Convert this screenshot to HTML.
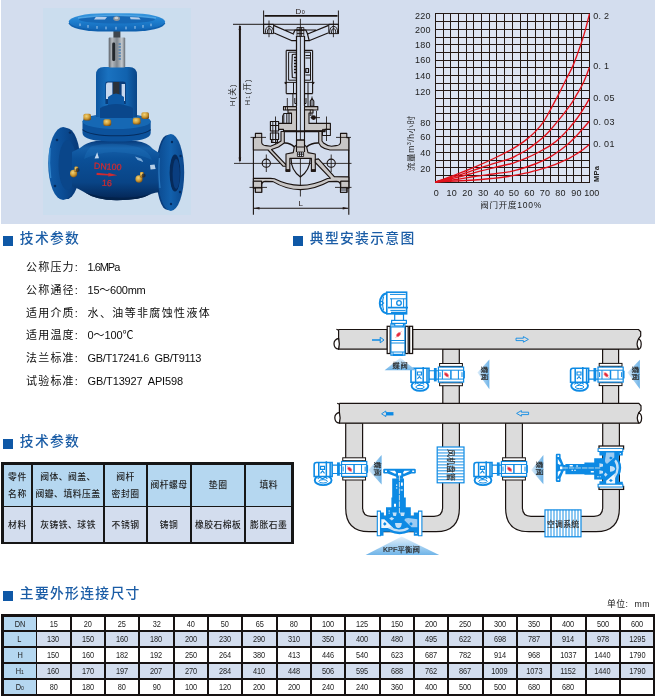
<!DOCTYPE html>
<html lang="zh-CN"><head><meta charset="utf-8"><title>KPF平衡阀</title>
<style>
*{box-sizing:border-box}
html,body{margin:0;padding:0;background:#fff}
body{width:657px;height:697px;position:relative;overflow:hidden;font-family:"Liberation Sans","Noto Sans CJK SC",sans-serif;color:#222}
.abs{position:absolute}
#top{left:1px;top:0;width:654px;height:223.7px;background:#d3ddee}
#photo{left:43px;top:8px;width:148px;height:206.8px;background:#cbddee}
.h{position:absolute;height:20px;line-height:20px;font-size:13.8px;letter-spacing:1.3px;font-weight:500;color:#1b5da6;white-space:nowrap}
.h i{position:absolute;left:.2px;top:6.9px;width:9.6px;height:9.7px;background:#0f58a6}
.h span{position:absolute;left:16.8px;top:.3px}
.p{position:absolute;left:25.6px;height:20px;line-height:20px;font-size:11px;white-space:nowrap;color:#0c0c0c}
.p .k{font-weight:400;letter-spacing:1.2px;position:absolute;left:0;top:0}
.p .v{position:absolute;left:61.6px;top:0;letter-spacing:-.85px;font-weight:400}
svg{position:absolute;left:0;top:0;overflow:visible}
body>*{will-change:transform}
svg text{font-family:"Liberation Sans","Noto Sans CJK SC",sans-serif}
.t1{position:absolute;left:1px;top:462px;width:293px;height:82px;background:#161616}
.t1 div{position:absolute;font-weight:500;font-size:8.8px;line-height:17.5px;text-align:center;color:#1e1e1e;letter-spacing:.5px;white-space:nowrap;display:flex;align-items:center;justify-content:center}
.t1 .a{background:#b5d7f0;padding-top:1.6px}
.t1 .b{background:#d3ddee;padding-top:2.6px}
.t2{position:absolute;left:1.3px;top:614px;width:654.4px;height:82px;background:#161212}
.t2 div{position:absolute;font-size:8.6px;text-align:center;color:#1c1c1c;white-space:nowrap;display:flex;align-items:center;justify-content:center;letter-spacing:-.1px;padding-top:.3px}
.t2 span{display:inline-block;transform:scaleX(.86)}
.t2 small{font-size:6px}
.t2 .a{background:#b5d7f0}
.t2 .b{background:#d3ddee}
.t2 .w{background:#fff}
.unit{position:absolute;left:607.4px;top:597.4px;width:50px;height:14px;line-height:14px;font-size:8.8px;letter-spacing:.5px;color:#222;white-space:nowrap}
</style></head>
<body>
<div id="top" class="abs"></div>
<div id="photo" class="abs"></div>
<svg width="657" height="697" viewBox="0 0 657 697">
<defs>
<linearGradient id="gBody" x1="0" y1="0" x2="0" y2="1">
<stop offset="0" stop-color="#083c7c"/><stop offset=".12" stop-color="#155fa8"/><stop offset=".3" stop-color="#0b5098"/><stop offset=".7" stop-color="#094486"/><stop offset="1" stop-color="#042452"/>
</linearGradient>
<linearGradient id="gWheel" x1="0" y1="0" x2="0" y2="1">
<stop offset="0" stop-color="#3a98de"/><stop offset=".45" stop-color="#1f80d0"/><stop offset="1" stop-color="#1266b6"/>
</linearGradient>
<linearGradient id="gSleeve" x1="0" y1="0" x2="1" y2="0">
<stop offset="0" stop-color="#5a6068"/><stop offset=".2" stop-color="#b4b9be"/><stop offset=".5" stop-color="#7e868e"/><stop offset=".8" stop-color="#c4c9ce"/><stop offset="1" stop-color="#666e76"/>
</linearGradient>
<linearGradient id="gYoke" x1="0" y1="0" x2="1" y2="0">
<stop offset="0" stop-color="#0d56a0"/><stop offset=".3" stop-color="#1a72c0"/><stop offset=".75" stop-color="#1162ae"/><stop offset="1" stop-color="#0a4587"/>
</linearGradient>
<linearGradient id="gFl" x1="0" y1="0" x2="1" y2="0">
<stop offset="0" stop-color="#115ca8"/><stop offset=".5" stop-color="#0b4c94"/><stop offset="1" stop-color="#083a78"/>
</linearGradient>
<linearGradient id="gFr" x1="0" y1="0" x2="1" y2="0">
<stop offset="0" stop-color="#0b4a90"/><stop offset=".5" stop-color="#1260ac"/><stop offset="1" stop-color="#0b478c"/>
</linearGradient>
<radialGradient id="gGold" cx=".4" cy=".35" r=".7">
<stop offset="0" stop-color="#f2d47a"/><stop offset=".55" stop-color="#cf9c34"/><stop offset="1" stop-color="#7a4e14"/>
</radialGradient>
</defs>
<g id="valve">
<!-- left flange -->
<ellipse cx="66.5" cy="163.5" rx="14" ry="35.6" fill="#083c7c"/>
<ellipse cx="63.2" cy="163.5" rx="15" ry="36.6" fill="url(#gFl)"/>
<ellipse cx="67.5" cy="165" rx="9" ry="25" fill="#0a468a"/>
<path d="M50 148Q48.6 163 50.6 178" stroke="#3c93d8" stroke-width="1.5" fill="none" opacity=".75"/>
<circle cx="57" cy="140" r="1.3" fill="#062c5e"/><circle cx="55" cy="186" r="1.3" fill="#062c5e"/><circle cx="70" cy="132.6" r="1.2" fill="#062c5e"/>
<!-- right flange back -->
<ellipse cx="167.6" cy="172.5" rx="11.6" ry="37.5" fill="#083c7c"/>
<!-- body -->
<path d="M72 152Q76 150 80 148Q86 142.4 96 141H136Q148 142.6 153 149Q157 152 160 153V192Q155 192.6 151 194Q140 200.4 116 200.2Q96 200.2 84 192Q78 188.6 72 186Z" fill="url(#gBody)"/>
<path d="M92 146Q114 141 138 147Q150 152 152 160Q138 153 114 152Q96 153 84 159Q86 150 92 146Z" fill="#2a84cc" opacity=".22"/>
<path d="M94.6 158.4l2.6-6.2 1.8 6z" fill="#d6e6f6" opacity=".9"/>
<path d="M135 156.4l6 2 2.6 3.6-6-2z" fill="#9cc4ea" opacity=".8"/>
<path d="M150 165l4.6-.6 1 4.6-5 .6z" fill="#d6e6f6" opacity=".85"/>
<path d="M84 192Q96 200.2 116 200.2Q140 200.4 151 194Q138 198 116 197.6Q98 197.6 84 192Z" fill="#03224a"/>
<!-- right flange front -->
<ellipse cx="170.8" cy="172.5" rx="13.4" ry="38.4" fill="url(#gFr)"/>
<ellipse cx="175" cy="173" rx="5.4" ry="18.6" fill="#062a5a"/>
<ellipse cx="176.2" cy="174" rx="3.6" ry="15" fill="#0a3e80"/>
<path d="M159.4 158Q158.2 172 160 188" stroke="#3c93d8" stroke-width="1.3" fill="none" opacity=".6"/>
<circle cx="172" cy="142" r="1.2" fill="#062c5e"/><circle cx="180.6" cy="156" r="1.2" fill="#062c5e"/><circle cx="180" cy="192" r="1.2" fill="#062c5e"/><circle cx="171" cy="204" r="1.2" fill="#062c5e"/>
<!-- bonnet flange -->
<path d="M82.5 122Q82.5 114 116.5 114Q150.7 114 150.7 122V133Q150.7 141.6 116.5 141.6Q82.5 141.6 82.5 133Z" fill="#0c529c"/>
<ellipse cx="116.6" cy="121.5" rx="34.1" ry="7.6" fill="#1668b4"/>
<path d="M82.5 129.6Q90 135.8 116.5 135.8Q143 135.8 150.7 129.6" stroke="#052c5e" stroke-width="1.1" fill="none"/>
<!-- yoke -->
<path d="M96 117V75Q96 67 104 67H129Q137 67 137 75V117Z" fill="url(#gYoke)"/>
<path d="M105.4 84Q105.4 81.6 108 81.6H123Q125.8 81.6 125.8 84V104H105.4Z" fill="#093c7a"/>
<path d="M106 84.4Q106 82.6 108 82.6H112.4V99H106Z" fill="#c8d8ee"/>
<path d="M121.6 84H125V101H121.6Z" fill="#c8d8ee"/>
<path d="M113.2 82H119.4V95H113.2Z" fill="#2c3138"/>
<path d="M108 97Q116 90 124 97V110H108Z" fill="#0d58a4"/>
<path d="M100 108Q116 100 133 108V118H100Z" fill="#0a478c"/>
<!-- bolts -->
<g fill="url(#gGold)">
<rect x="83.4" y="113.8" width="7.6" height="6.8" rx="1.8"/>
<rect x="103.4" y="119.2" width="7.8" height="6.8" rx="1.8"/>
<rect x="132.8" y="117.8" width="7.8" height="6.8" rx="1.8"/>
<rect x="141.4" y="112.2" width="7.6" height="6.8" rx="1.8"/>
<ellipse cx="73.6" cy="173.6" rx="3.6" ry="3.8"/>
<ellipse cx="139" cy="179" rx="3.6" ry="3.8"/>
<rect x="74.4" y="166.6" width="3.8" height="5.4" rx="1"/>
<rect x="140" y="172" width="3.8" height="5.4" rx="1"/>
</g>
<circle cx="77.6" cy="170" r="2" fill="#1c2230" opacity=".7"/><circle cx="143.6" cy="175.6" r="2" fill="#1c2230" opacity=".7"/>
<!-- sleeve & stem -->
<rect x="113.4" y="30" width="7" height="9" fill="#3f464d"/>
<rect x="108.7" y="37.4" width="16.5" height="30" rx="1" fill="url(#gSleeve)"/>
<rect x="112.2" y="42.6" width="3" height="18.5" rx="1.4" fill="#23272c"/>
<path d="M118.6 44h2.4M118.6 47h2.4M118.6 50h2.4M118.6 53h2.4M118.6 56h2.4M118.6 59h2.4" stroke="#2d6fb0" stroke-width="1"/>
<!-- handwheel -->
<rect x="68.8" y="15" width="96.2" height="16.6" rx="36" ry="8.3" fill="#0f60ae"/>
<rect x="68.8" y="13.2" width="96.2" height="16.8" rx="36" ry="8.4" fill="url(#gWheel)"/>
<ellipse cx="116.9" cy="19.4" rx="38" ry="4.2" fill="#1668b6"/>
<path d="M96 16.8l11 .2-2 2.4-11 .2zM130 17l9 .4 1.6 2-10-.2z" fill="#c8d8ee" opacity=".9"/>
<path d="M80 23.5v2.5M88 25v2.8M97 26v2.8M106 26.6v2.8M116 26.8v2.8M126 26.6v2.8M135 26v2.8M143 25v2.8M151 23.6v2.6" stroke="#cfe3f7" stroke-width="1" opacity=".8"/>
<path d="M78 18Q116 12.6 156 18" stroke="#58acea" stroke-width="1.4" fill="none" opacity=".8"/>
<ellipse cx="116.6" cy="18.6" rx="3.4" ry="2.4" fill="#8d949b"/>
<ellipse cx="116.4" cy="18" rx="2" ry="1.3" fill="#c9ced3"/>
<!-- lettering -->
<g fill="#d02a30" transform="rotate(3 108 170)" stroke="#d02a30" stroke-width=".25">
<text x="93.8" y="169.6" font-size="8.8" textLength="27.6" lengthAdjust="spacingAndGlyphs">DN100</text>
<text x="102.6" y="186" font-size="8.8" textLength="10" lengthAdjust="spacingAndGlyphs">16</text>
<path d="M96.8 173.4l12 .6-.6-1.2 9.4 2-9.4 1.8 .6-1.2-12 .2z" stroke="none"/>
</g>
</g>

<g id="drawing" fill="none" stroke="#1a1311" stroke-width="1.10" stroke-linejoin="round">
<!-- dimension lines -->
<path d="M263.6 10.5V33.8M338.4 10.5V33.8M233 24.3H338.4" stroke-width="0.98"/>
<path d="M264.5 15.9H337.5" stroke-width="1.83"/>
<path d="M239.9 26V161" stroke-width="1.95"/>
<path d="M239.9 24.6L238.6 30H241.2ZM239.9 163L238.6 157.5H241.2Z" fill="#231815" stroke="none"/>
<path d="M234 163.4H351.5M300.4 18.8V196.5" stroke-width="0.85"/>
<path d="M253.4 137.5V214.8M348.8 137.5V214.8" stroke-width="1.10"/>
<path d="M254 208.2H348.2" stroke-width="1.10"/>
<path d="M253.8 208.2L259.5 206.9V209.5ZM348.4 208.2L342.7 206.9V209.5Z" fill="#231815" stroke="none"/>
<!-- handwheel -->
<path d="M263.6 24.3H273.6V33.6H263.6ZM328.8 24.3H338.4V33.6H328.8Z" stroke-width="0.98"/>
<path d="M265.3 33.2Q265.3 26.4 269.4 26.4Q273.5 26.4 273.5 33.2M267.3 33.2Q267.3 28.6 269.4 28.6Q271.6 28.6 271.6 33.2M329.6 33.2Q329.6 26.4 333.6 26.4Q337.7 26.4 337.7 33.2M331.5 33.2Q331.5 28.6 333.6 28.6Q335.8 28.6 335.8 33.2" stroke-width="0.98"/>
<path d="M269 20.5V37.2M333.4 20.5V37.2" stroke-width="0.85"/>
<path d="M273.6 25.4L294 34.2M274.2 33L292 40.8M328.6 25.4L307 34.2M328 33L309 40.8M285 30H316" stroke-width="1.22"/>
<path d="M293.4 33.6L295 30H305.8L307.4 33.6L309.2 40.6H305M291.6 40.6H296" stroke-width="1.22"/>
<path d="M297 27.5H303.8V36.5H297ZM297 30.5H303.8M297 33.5H303.8M299.2 27.5V36.5M301.6 27.5V36.5" stroke-width="0.85"/>
<!-- stem -->
<path d="M296.5 36V106M304.5 36V106" stroke-width="1.22"/>
<!-- yoke -->
<path d="M286.2 50.4H296.5M304.5 50.4H312.6M286.2 50.4V93.6M312.6 50.4V93.6M286.2 93.6H296.5M304.5 93.6H312.6"/>
<path d="M288.6 52.2H296.5M304.5 52.2H310.5M288.6 52.2V80.2M310.5 52.2V80.2M288.6 80.2H296.5M304.5 80.2H310.5" stroke-width="0.98"/>
<path d="M284.5 82.4H296.5M304.5 82.4H314.5M293.5 82.4V93.6M308 82.4V93.6M305.5 55.5H310.5M305.5 58H310.5M305.5 75H310.5" stroke-width="0.98"/>
<path d="M292.3 54.5Q291.5 66 292.3 77.5L296.4 78V54Z" stroke-width="1.10"/>
<path d="M294 57.5H296.3M294 60.5H296.3M294 63.5H296.3M294 66.5H296.3M294 69.5H296.3M294 72.5H296.3" stroke-width="1.46"/>
<path d="M305.8 68.5H308.5V72.5H305.8Z" stroke-width="1.22"/>
<path d="M286.2 82.4l-1 1.5M312.6 82.4l1 1.5" stroke-width="1.71"/>
<!-- neck -->
<path d="M292.9 93.6V106.4M308 93.6V106.4M294.8 98V103.5H296.5M306 98V103.5H304.5" stroke-width="0.98"/>
<path d="M287.3 98V107" stroke-width="0.85"/>
<path d="M312 98.5L313.8 101V106.4H310.3V101Z" stroke-width="1.10" fill="#d3ddee"/>
<path d="M312 96.5V119" stroke-width="0.85"/>
<!-- gland flange -->
<path d="M283.5 106.6H296.5V110H283.5ZM304.5 106.6H317.8V110H304.5Z" fill="#c8c6c6" stroke-width="1.10"/>
<path d="M285.5 106.6V110M287.5 106.6V110" stroke-width="0.85"/>
<!-- bonnet -->
<path d="M288 110H296.5V131H283.5V129.4H277.6V123.4H291.5V113H288Z" fill="#c8c6c6" stroke-width="1.10"/>
<path d="M304.5 110H313V113H309V123.4H330.4V129.4H325V131H304.5Z" fill="#c8c6c6" stroke-width="1.10"/>
<path d="M283.8 113.5H291.5M283.8 113.5V123.4M286.8 113.5V123.4M289 113.5V123.4M283.8 113.5L282.6 116V123.4" stroke-width="0.98"/>
<circle cx="313.6" cy="117.6" r="2.4" fill="#231815" stroke="none"/>
<path d="M310.5 117.6H320M316.5 111V123.4M310.3 110V116" stroke-width="0.85"/>
<path d="M283 131.2H325.5" stroke-width="2.07"/>
<!-- bolts left -->
<path d="M270.4 121.5H278.6V125.5H270.4ZM270.4 125.5H278.6V131H270.4ZM270.4 133H278.6V139.5H270.4ZM271.5 139.5H277.5V142.5H271.5Z" stroke-width="1.10" fill="#d3ddee"/>
<path d="M272.8 121.5V142.5M275.8 121.5V142.5" stroke-width="0.85"/>
<path d="M275.5 116.5V146M326.5 116.5V141" stroke-width="0.85"/>
<path d="M322.5 129.4H330.4V135.5H322.5ZM322.5 135.5H330.4" stroke-width="0.98"/>
<!-- body upper walls -->
<path d="M253.4 137.6H255.4V133.4H261.7V137.6V142.5Q262 145.4 266 145.6L270.5 146.2L277 143.5L281 141V131.5H284.3V143L278.5 147L271.5 149.5L287.5 166.3H283.2L268 150H253.4Z" fill="#c8c6c6" stroke-width="1.10"/>
<path d="M348.8 137.6H346.8V133.4H340.5V137.6V142.5Q340 145.4 336 145.6L331.5 146.2Q327 145.8 323.5 143L322 141V131.5H318.7V143L321 146.5Q325 149.5 330 150H348.8Z" fill="#c8c6c6" stroke-width="1.10"/>
<path d="M284.3 143Q289.5 142.5 294.3 146.8M318.7 143Q312 142.5 306.6 146.8" stroke-width="1.59"/>
<!-- plug / disc -->
<path d="M294.3 146.8L293.2 152.6L286 154V171.3H289.8V158.4H311.4V171.3H315.3V154L308 152.6L306.6 146.8L304.5 145V140H296.5V145Z" fill="#c8c6c6" stroke-width="1.10"/>
<path d="M297.4 152H303.6V156.5H297.4ZM297.4 154.2H303.6M299.5 152V156.5M301.5 152V156.5" stroke-width="0.85" fill="#d3ddee"/>
<path d="M296.5 131V152M304.5 131V152M296.5 140H304.5M296.5 147H304.5" stroke-width="1.10"/>
<path d="M291 158.4Q291 170 300.4 177Q310 170 310.2 158.4" stroke-width="1.22"/>
<path d="M286 169.5H289.8V171.5H286ZM311.4 169.5H315.3V171.5H311.4Z" fill="#231815" stroke-width="0.73"/>
<!-- diagonal web right -->
<path d="M315.3 159.5L318.5 159L334 176.5L348.8 177V181H342V192H346.8V188.5M348.8 150V181" stroke-width="1.10"/>
<path d="M315.3 159.5L318.5 159L334.5 176.8L348.8 177V181.2H340.8L340.5 185Q340 181.5 336.5 181.4L329 181.6Q315 189.5 300.4 189.6Q286 189.5 273 181.6L265.5 181.4Q262 181.5 261.7 185L261.5 181.2H253.4V178.4H270.5L274.5 178.8Q287 185.3 300.4 185.4Q314 185.3 327.5 178.5L330.5 178.3L315.3 162.5Z" fill="#c8c6c6" stroke-width="1.10"/>
<path d="M253.4 181.2V188H255.4V192.2H261.7V185M348.8 181.2V188H346.8V192.2H340.5V185" fill="none" stroke-width="1.10"/>
<path d="M253.4 181.2H261.6V188H253.4ZM340.7 181.2H348.8V188H340.7Z" fill="#c8c6c6" stroke-width="1.10"/>
<path d="M255.4 188H261.7V192.2H255.4Z" fill="#c8c6c6" stroke-width="1.10"/>
<path d="M340.5 188H346.8V192.2H340.5Z" fill="#d3ddee" stroke-width="1.10"/>
<path d="M340.5 190H346.8" stroke-width="0.85"/>
<!-- bolt holes -->
<circle cx="266.3" cy="163.2" r="4.1" stroke-width="1.10"/>
<circle cx="331.2" cy="163.2" r="4.1" stroke-width="1.10"/>
<path d="M266.3 154.5V172M331.2 154.5V172M250.5 137.4H266M249.5 187.4H267M336 137.4H351M335 187.4H351.5" stroke-width="0.85"/>
<!-- labels -->
<g stroke="none" fill="#231815">
<text x="295.6" y="14" font-size="8" letter-spacing=".3">D<tspan font-size="5.5">0</tspan></text>
<text x="298.4" y="206" font-size="8">L</text>
<text transform="translate(235.4 106.2) rotate(-90)" font-size="7.8" letter-spacing="1.1" fill="#2a2a2a">H(关)</text>
<text transform="translate(249.8 105.4) rotate(-90)" font-size="7.8" letter-spacing="1.1" fill="#2a2a2a">H<tspan font-size="5.5">1</tspan>(开)</text>
</g>
</g>

<g id="chart">
<rect x="435" y="13" width="155" height="170" fill="#dde4f3"/>
<path d="M435.5 13V183M443.5 13V183M450.5 13V183M458.5 13V183M466.5 13V183M473.5 13V183M481.5 13V183M489.5 13V183M496.5 13V183M504.5 13V183M512.5 13V183M520.5 13V183M527.5 13V183M535.5 13V183M543.5 13V183M550.5 13V183M558.5 13V183M566.5 13V183M573.5 13V183M581.5 13V183M589.5 13V183M435 13.5H590M435 21.5H590M435 29.5H590M435 37.5H590M435 44.5H590M435 52.5H590M435 60.5H590M435 67.5H590M435 75.5H590M435 83.5H590M435 90.5H590M435 98.5H590M435 106.5H590M435 113.5H590M435 121.5H590M435 129.5H590M435 136.5H590M435 144.5H590M435 152.5H590M435 160.5H590M435 167.5H590M435 175.5H590M435 182.5H590" fill="none" stroke="#231815" stroke-width="1" shape-rendering="crispEdges"/>
<path d="M435.5 182C438.9 180.8 449.5 177.1 456 174.6C462.5 172.1 468.4 169.8 474.7 167.1C481.0 164.4 487.9 161.3 493.8 158.5C499.7 155.7 505.9 152.5 510 150.3C514.1 148.1 515.6 147.1 518.4 145.3C521.2 143.5 523.9 141.6 526.7 139.4C529.5 137.2 532.3 134.8 535.1 131.9C537.9 129.0 541.0 125.4 543.5 121.8C546.0 118.2 547.7 114.7 550.2 110.1C552.7 105.5 555.8 99.8 558.6 94.4C561.4 89.0 564.5 82.5 566.9 77.8C569.3 73.1 571.1 69.9 572.8 66.1C574.5 62.3 575.5 59.4 577 55.2C578.5 51.0 580.6 45.2 582 41C583.4 36.8 584.0 34.6 585.3 30.1C586.5 25.6 588.8 16.5 589.5 13.8" fill="none" stroke="#e0101a" stroke-width="1.35"/>
<path d="M435.5 182C438.9 181.0 449.5 178.2 456 176.2C462.5 174.2 468.5 172.0 474.7 169.9C480.9 167.8 487.4 165.5 493.3 163.6C499.2 161.7 505.8 160.2 510 158.7C514.2 157.2 515.6 155.9 518.4 154.5C521.2 153.1 523.9 151.8 526.7 150C529.5 148.2 532.3 146.1 535.1 143.9C537.9 141.7 541.0 139.2 543.5 136.9C546.0 134.6 547.7 133.0 550.2 130.2C552.7 127.4 556.1 123.3 558.6 120.2C561.1 117.1 563.0 114.7 565.2 111.8C567.4 108.9 570.0 105.5 572 102.6C574.0 99.7 575.0 97.6 577 94.2C579.0 90.8 581.6 86.5 583.7 82C585.8 77.5 588.5 69.8 589.5 67.3" fill="none" stroke="#e0101a" stroke-width="1.35"/>
<path d="M435.5 182C438.9 181.3 449.5 179.2 456 177.6C462.5 176.0 468.5 174.2 474.7 172.6C480.9 171.0 487.4 169.2 493.3 167.8C499.2 166.4 505.8 165.1 510 164C514.2 162.9 515.6 162.2 518.4 161.2C521.2 160.2 523.9 159.0 526.7 157.8C529.5 156.6 532.3 155.4 535.1 154C537.9 152.6 540.7 151.1 543.5 149.5C546.3 147.9 549.1 146.4 551.9 144.4C554.7 142.4 557.4 140.3 560.2 137.7C563.0 135.1 565.8 132.1 568.6 128.9C571.4 125.7 574.5 121.9 577 118.5C579.5 115.1 581.7 111.7 583.7 108.4C585.8 105.1 588.4 100.5 589.3 98.9" fill="none" stroke="#e0101a" stroke-width="1.35"/>
<path d="M435.5 182C438.9 181.6 449.5 180.4 456 179.5C462.5 178.6 468.5 177.4 474.7 176.5C480.9 175.6 487.4 174.8 493.3 174C499.2 173.2 505.8 172.3 510 171.6C514.2 170.8 515.6 170.3 518.4 169.5C521.2 168.7 523.9 167.9 526.7 167C529.5 166.1 532.3 165.1 535.1 164C537.9 162.9 540.7 161.7 543.5 160.3C546.3 158.9 549.1 157.5 551.9 155.8C554.7 154.1 557.4 152.3 560.2 150.3C563.0 148.3 565.8 146.1 568.6 143.6C571.4 141.1 574.5 137.8 577 135.2C579.5 132.5 581.7 130.0 583.7 127.7C585.8 125.4 588.4 122.4 589.3 121.3" fill="none" stroke="#e0101a" stroke-width="1.35"/>
<path d="M435.5 182C438.9 181.8 449.5 181.3 456 181C462.5 180.7 468.5 180.4 474.7 180C480.9 179.6 487.4 178.9 493.3 178.3C499.2 177.7 505.8 176.8 510 176.2C514.2 175.6 515.6 175.1 518.4 174.6C521.2 174.1 523.9 173.6 526.7 172.9C529.5 172.2 532.3 171.4 535.1 170.7C537.9 169.9 540.7 169.2 543.5 168.4C546.3 167.6 549.1 166.7 551.9 165.7C554.7 164.7 557.4 163.5 560.2 162.3C563.0 161.1 565.8 160.1 568.6 158.7C571.4 157.2 574.8 155.0 577 153.6C579.2 152.2 580.0 151.8 582 150.3C584.0 148.8 588.1 145.4 589.3 144.4" fill="none" stroke="#e0101a" stroke-width="1.35"/>
<path d="M435.5 182.2L452 176.5L452 181.2Z" fill="#e0141c"/>
<text x="430.8" y="18.7" text-anchor="end" font-size="9" letter-spacing=".25" fill="#222">220</text>
<text x="430.8" y="33.4" text-anchor="end" font-size="9" letter-spacing=".25" fill="#222">200</text>
<text x="430.8" y="48.0" text-anchor="end" font-size="9" letter-spacing=".25" fill="#222">180</text>
<text x="430.8" y="62.8" text-anchor="end" font-size="9" letter-spacing=".25" fill="#222">160</text>
<text x="430.8" y="78.5" text-anchor="end" font-size="9" letter-spacing=".25" fill="#222">140</text>
<text x="430.8" y="95.4" text-anchor="end" font-size="9" letter-spacing=".25" fill="#222">120</text>
<text x="430.8" y="125.8" text-anchor="end" font-size="9" letter-spacing=".25" fill="#222">80</text>
<text x="430.8" y="140.1" text-anchor="end" font-size="9" letter-spacing=".25" fill="#222">60</text>
<text x="430.8" y="155.8" text-anchor="end" font-size="9" letter-spacing=".25" fill="#222">40</text>
<text x="430.8" y="171.6" text-anchor="end" font-size="9" letter-spacing=".25" fill="#222">20</text>
<text x="436.4" y="196.3" text-anchor="middle" font-size="9" letter-spacing="0.25" fill="#222">0</text>
<text x="451.7" y="196.3" text-anchor="middle" font-size="9" letter-spacing="0.25" fill="#222">10</text>
<text x="467.4" y="196.3" text-anchor="middle" font-size="9" letter-spacing="0.25" fill="#222">20</text>
<text x="483.3" y="196.3" text-anchor="middle" font-size="9" letter-spacing="0.25" fill="#222">30</text>
<text x="498.9" y="196.3" text-anchor="middle" font-size="9" letter-spacing="0.25" fill="#222">40</text>
<text x="514.1" y="196.3" text-anchor="middle" font-size="9" letter-spacing="0.25" fill="#222">50</text>
<text x="529.4" y="196.3" text-anchor="middle" font-size="9" letter-spacing="0.25" fill="#222">60</text>
<text x="545.1" y="196.3" text-anchor="middle" font-size="9" letter-spacing="0.25" fill="#222">70</text>
<text x="560.4" y="196.3" text-anchor="middle" font-size="9" letter-spacing="0.25" fill="#222">80</text>
<text x="576.6" y="196.3" text-anchor="middle" font-size="9" letter-spacing="0.25" fill="#222">90</text>
<text x="591.7" y="196.3" text-anchor="middle" font-size="9" letter-spacing="0" fill="#222">100</text>
<text x="480.3" y="208" font-size="8.5" letter-spacing=".75" fill="#222">阀门开度100%</text>
<text transform="translate(414 171) rotate(-90)" font-size="8.5" letter-spacing=".6" fill="#222">流量m<tspan font-size="5" dy="-3">3</tspan><tspan dy="3">/h小时</tspan></text>
<text x="593.2" y="18.8" font-size="9" letter-spacing=".3" fill="#222" xml:space="preserve">0. 2</text>
<text x="593.2" y="69.2" font-size="9" letter-spacing=".3" fill="#222" xml:space="preserve">0. 1</text>
<text x="593.2" y="101.0" font-size="9" letter-spacing=".3" fill="#222" xml:space="preserve">0. 05</text>
<text x="593.2" y="124.8" font-size="9" letter-spacing=".3" fill="#222" xml:space="preserve">0. 03</text>
<text x="593.2" y="146.8" font-size="9" letter-spacing=".3" fill="#222" xml:space="preserve">0. 01</text>
<text transform="translate(598.5 182) rotate(-90)" font-size="7.5" letter-spacing=".3" fill="#222" font-weight="bold">MPa</text>
</g>
<defs>
<linearGradient id="tR" x1="0" y1="0" x2="1" y2="0"><stop offset="0" stop-color="#dcedfa"/><stop offset="1" stop-color="#6fb4e8"/></linearGradient>
<linearGradient id="tD" x1="0" y1="0" x2="0" y2="1"><stop offset="0" stop-color="#e4f1fb"/><stop offset="1" stop-color="#6fb4e8"/></linearGradient>
<g id="bfh" fill="#fff" stroke="#0d8ae4" stroke-width="1.2">
<!-- horizontal butterfly valve: origin = pipe centre x, body centre y -->
<rect x="-12.6" y="-7.5" width="25.2" height="15"/>
<path d="M-12.6 -4.4H12.6M-12.6 4.5H12.6M-8.6 -4.4V4.5M7.4 -4.4V4.5M-11 -2.4V2.4M11 -2.4V2.4" fill="none" stroke-width="1"/>
<path d="M-.1 -4.4V4.5" fill="none" stroke-width="1.5"/>
<rect x="12.6" y="-3.4" width=".9" height="6.8" stroke-width=".9"/>
<path d="M-22 -3.8H-12.6M-22 4.5H-12.6" fill="none" stroke-width="1.1"/>
<rect x="-17.1" y="-6.6" width="2.8" height="13.4" fill="#0d8ae4" stroke="none"/>
<ellipse cx="-31" cy="11.2" rx="8.4" ry="5" stroke-width="1.9"/>
<path d="M-37.6 -6.4H-22V7.6H-40V-4Q-40 -6.4 -37.6 -6.4Z" stroke-width="1.6"/>
<path d="M-35.4 -6.4V7.6M-27.8 -7.6V8.6M-24 -6.4V7.6" fill="none" stroke-width="1.5"/>
<path d="M-33.6 -2.6h4v3h-4zM-33.6 4.4l2-2.4 2 2.4M-36.4 9.8l2-1.6 2.8 1.6 2.8-1.6 2 1.6" fill="none" stroke-width="1.1"/>
<ellipse cx="-31" cy="12.4" rx="4.2" ry="1.7" stroke-width="1"/>
<path d="M-7.2 -3L-1.8 3.4" stroke="#f6a0a6" stroke-width=".8" fill="none"/>
<ellipse cx="-4.5" cy=".2" rx="2.5" ry="1.5" transform="rotate(45 -4.5 .2)" fill="#e6283a" stroke="#f07c86" stroke-width=".6"/>
</g>
<g id="flh" fill="#fff" stroke="#1a1311" stroke-width="1">
<rect x="-11.4" y="-11.1" width="22.8" height="2.9"/>
<rect x="-11.4" y="8.2" width="22.8" height="2.9"/>
</g>
<g id="globe">
<!-- upright globe valve; origin = body centre (pipe axis) -->
<path d="M-16.4 -53.6Q-16.4 -54.6 -15.2 -54.6H15Q16.2 -54.6 16.2 -53.6V-50.6Q16.2 -49.8 15 -49.8H12L3.4 -46.6V-44.6H-3.4V-46.6L-12 -49.8H-15.2Q-16.4 -49.8 -16.4 -50.6Z" fill="#0d8ae4"/>
<path d="M-14.6 -52.9h2v1.6h-2zM12.6 -52.9h2v1.6h-2zM-10.6 -52.6H-4.6L-3.2 -50.2L-4.6 -49.6ZM10.6 -52.6H4.6L3.2 -50.2L4.6 -49.6ZM-1.6 -50.4H1.6V-48H-1.6Z" fill="#fff"/>
<path d="M-7.4 -45H4.4V-26H6.2V-16.2H11.2V-9H-13.6V-16.2H-8.2V-26H-7.4Z" fill="#0d8ae4"/>
<path d="M-.2 -48V-9" stroke="#f4efe6" stroke-width=".8" stroke-dasharray="5.5 1"/>
<path d="M1.4 -40.8H3.2V-37.6H1.4ZM-3.6 -38.8h1.3v1.2h-1.3zM-3.6 -36h1.3v1.2h-1.3zM1 -33.8h2.2v.9h-2.2zM-5.6 -19.6h2v3h-2zM-11 -13h1.2v1.2h-1.2zM-11 -10.6h1.2v1.2h-1.2z" fill="#fff"/>
<path d="M-19.1 -11H-15.7V-7.6H-13.6V-9.8H11.2V-7.6H14.2V-11H18.9V12.4H14.2V8.4H10Q5 10.8 0 10.8Q-5 10.8 -10 8.4H-16.1V12.4H-19.1Z" fill="#0d8ae4"/>
<path d="M-22.3 -12.3H-19.1V12.4H-22.3ZM18.9 -12.3H22.3V12.4H18.9Z" fill="#fff" stroke="#0d8ae4" stroke-width="1.1"/>
<path d="M-18.3 -4.2H-15.2L-6.4 4.7H-18.3Z" fill="#eef6fd"/>
<path d="M5.4 -4.6Q8 -6 10.4 -5.2L17.7 -4.2V3.9H12L4.8 -3.2Z" fill="#9ccbf2"/>
<path d="M-12 4.7Q-6 8.4 0 8.4Q6 8.4 9.6 5.4L7.6 4Q3 6.2 -1 6Q-6 5.6 -8.6 3.4Z" fill="#c4e0f7"/>
<path d="M-4.6 -.4H2.2Q2 4.4 -1.2 4.7Q-4.4 4.4 -4.6 -.4ZM-7.1 -11H-2.9L-3.6 -7.4H-6.2ZM.5 -11H5.2L4.4 -7.4H1.4ZM-10.4 -5l2.4-1.4 2.6 1.4-2.4 2.2z" fill="#c4e0f7"/>
<path d="M-16.6 .5l1.8-1.9 1.8 1.9-1.8 1.9zM9.6 .5l1.8-1.9 1.8 1.9-1.8 1.9zM15.6 9.6h1.4v1.4h-1.4z" fill="#0d8ae4"/>
<path d="M15.8 9.4h1.2v1.2h-1.2z" fill="#fff"/>
</g>
</defs>
<g id="install">
<!-- pipes -->
<g fill="#dcdcdc" stroke="#1a1311" stroke-width="1.2">
<path d="M345.7 423V508Q345.7 531.7 369 531.7H436Q459.4 531.7 459.4 508V423H442.6V507.5Q442.6 516.3 434 516.3H371Q362.6 516.3 362.6 507.5V423Z"/>
<path d="M505.6 423V508Q505.6 531.7 529 531.7H596Q619.4 531.7 619.4 508V423H602.7V507.5Q602.7 516.3 594 516.3H531Q522.4 516.3 522.4 507.5V423Z"/>
<path d="M442.8 349V404H459.3V349ZM602.6 349V404H618.6V349Z"/>
<path d="M336.4 329.3L338.6 330.2V349.1H387.3V329.5H338.6"/>
<path d="M412.6 329.5H638.6L640.7 331.8V336L638.6 338.6V349.1H412.6Z"/>
<path d="M337.2 403.2L339.4 404.1V423.2H638.8V412.8L641 410V405.8L638.8 403.4H339.4"/>
<g fill="#fff" stroke-width="1.25">
<path d="M338.6 338.4Q334 339.6 334 343.8Q334.2 348.8 338.6 349.1Q340 343.8 338.6 338.4Z"/>
<path d="M638.6 338.8Q641.2 340 641.2 344.2Q641 349 638.6 349.1Q635.6 343.8 638.6 338.8Z"/>
<path d="M339.4 412.4Q334.8 413.6 334.8 417.8Q335 422.8 339.4 423.2Q340.8 417.8 339.4 412.4Z"/>
<path d="M638.8 412.8Q641.6 414 641.6 418.2Q641.4 423 638.8 423.2Q635.8 417.8 638.8 412.8Z"/>
</g>
</g>
<!-- pipe flanges for valve 1 -->
<g fill="#fff" stroke="#1a1311" stroke-width="1.25">
<rect x="387.2" y="326.3" width="3" height="27.2"/>
<rect x="405.4" y="326.3" width="2.8" height="27.2"/>
<rect x="409.6" y="326.3" width="3" height="27.2"/>
</g>
<!-- valve 1 upright -->
<g fill="#fff" stroke="#0d8ae4" stroke-width="1.2">
<rect x="390.9" y="323.8" width="14" height="31.4"/>
<path d="M390.9 327H404.9M390.9 340.5H404.9M390.9 343H404.9M390.9 352H404.9M393 323.8V327M402.8 323.8V327M393 352V355.2M402.8 352V355.2" fill="none" stroke-width="1"/>
<rect x="393" y="353.8" width="9.8" height="2.2" fill="#0d8ae4" stroke="none"/>
<rect x="394.7" y="314" width="8.8" height="12" stroke-width="1.2"/>
<rect x="391.6" y="320.4" width="14.8" height="3" stroke-width="1.2"/>
<ellipse cx="387.4" cy="303.2" rx="7.6" ry="10" stroke-width="2"/>
<path d="M383.6 296.5Q381.6 303 383.6 310M381 301l2.6 2-2.6 2.4" fill="none" stroke-width="1.1"/>
<rect x="386.8" y="292.2" width="19.8" height="21.6" stroke-width="1.6"/>
<path d="M390 294.4H405.6M390 298.8H406.6M390.4 310.4H405.6M391.4 298.8V307.6M403.6 298.8V307.6" fill="none" stroke-width="1"/>
<path d="M388 307.6H408" fill="none" stroke-width="1.7"/>
<path d="M391 312.4H406" fill="none" stroke-width="1.3"/>
<circle cx="399" cy="303" r="2.3" stroke-width="1.3"/>
<path d="M395.4 338L401.6 331.2" stroke="#f6a0a6" stroke-width=".8" fill="none"/>
<ellipse cx="398.5" cy="334.6" rx="2.5" ry="1.5" transform="rotate(-45 398.5 334.6)" fill="#e6283a" stroke="#f07c86" stroke-width=".6"/>
</g>
<!-- horizontal butterfly valves -->
<use href="#flh" x="451" y="374.6"/><use href="#bfh" x="451" y="374.6"/>
<use href="#flh" x="610.6" y="374.5"/><use href="#bfh" x="610.6" y="374.6"/>
<use href="#flh" x="354.15" y="468.9"/><use href="#bfh" x="354.15" y="468.95"/>
<use href="#flh" x="514" y="468.9"/><use href="#bfh" x="514" y="468.95"/>
<!-- globe valve horizontal -->
<g fill="#fff" stroke="#1a1311" stroke-width="1.25">
<rect x="599" y="446" width="24.6" height="3"/>
<rect x="599" y="486.4" width="24.6" height="3"/>
</g>
<use href="#globe" transform="translate(610.4 467.8) rotate(-90) scale(.86 1)"/>
<!-- KPF globe valve -->
<use href="#globe" transform="translate(399.6 523.4)"/>
<!-- radiator -->
<g>
<rect x="437.2" y="447" width="26.8" height="35.8" fill="#fff" stroke="#0d8ae4" stroke-width="1.2"/>
<path d="M437.4 449.98H463.8M437.4 452.96H463.8M437.4 455.94H463.8M437.4 458.92H463.8M437.4 461.90H463.8M437.4 464.88H463.8M437.4 467.86H463.8M437.4 470.84H463.8M437.4 473.82H463.8M437.4 476.80H463.8M437.4 479.78H463.8" stroke="#0d8ae4" stroke-width=".95" fill="none"/>
<rect x="545" y="509.9" width="36" height="26.9" fill="#fff" stroke="#0d8ae4" stroke-width="1.2"/>
<path d="M548.00 509.9V536.8M551.00 509.9V536.8M554.00 509.9V536.8M557.00 509.9V536.8M560.00 509.9V536.8M563.00 509.9V536.8M566.00 509.9V536.8M569.00 509.9V536.8M572.00 509.9V536.8M575.00 509.9V536.8M578.00 509.9V536.8" stroke="#0d8ae4" stroke-width=".95" fill="none"/>
</g>
<!-- label triangles -->
<path d="M400.3 357.8L416 370.2H384.6Z" fill="url(#tD)"/>
<path d="M401.6 536.6L439.2 555H365.6Z" fill="url(#tD)"/>
<path d="M477.4 372.6L489.4 359.6V389.2Z" fill="url(#tR)"/>
<path d="M627.4 372.4L639.9 359.8V389.1Z" fill="url(#tR)"/>
<path d="M368.4 470L381.6 455V484.6Z" fill="url(#tR)"/>
<path d="M531.2 470L543.4 455V484.2Z" fill="url(#tR)"/>
<!-- arrows -->
<g fill="none" stroke="#0d8ae4" stroke-width="1.2">
<path d="M372 340H380.4" stroke-width="1.5"/>
<path d="M380.2 337.2L384 340L380.2 342.8Z" stroke-width="1"/>
<path d="M516 338.2H523.4V336.6L528.4 339.4L523.4 342.2V340.6H516Z" stroke-width=".9"/>
<path d="M393.4 412.6H385.8V411L381.6 413.8L385.8 416.6V415H393.4" stroke-width=".9"/>
<path d="M393.4 412.6H386V415H393.4Z" fill="#0d8ae4" stroke="none"/>
<path d="M528.6 412.2H521.4V410.6L516.6 413.4L521.4 416.2V414.6H528.6Z" stroke-width=".9"/>
</g>
<!-- labels -->
<g fill="#2a2a2a" font-size="6.8" stroke="#2a2a2a" stroke-width=".2">
<text x="392.6" y="368.4" font-size="7.2" letter-spacing=".7">蝶阀</text>
<text x="383" y="552.2" font-size="7.4" letter-spacing=".05">KPF平衡阀</text>
<text transform="translate(482.4 366.4) rotate(90)" letter-spacing=".4">蝶阀</text>
<text transform="translate(632.8 366.4) rotate(90)" letter-spacing=".4">蝶阀</text>
<text transform="translate(375 461.8) rotate(90)" letter-spacing=".4">蝶阀</text>
<text transform="translate(537 461.6) rotate(90)" letter-spacing=".4">蝶阀</text>
<text transform="translate(447.8 449.2) rotate(90)" font-size="7.6" letter-spacing=".45">风机盘管</text>
<text x="547" y="526.6" font-size="7.8" letter-spacing=".3">空调系统</text>
</g>
</g>

</svg>
<div class="h" style="left:3px;top:229.3px"><i></i><span>技术参数</span></div>
<div class="h" style="left:292.7px;top:229.2px"><i></i><span>典型安装示意图</span></div>
<div class="h" style="left:3px;top:432.2px"><i></i><span>技术参数</span></div>
<div class="h" style="left:3px;top:584.2px"><i></i><span>主要外形连接尺寸</span></div>
<div class="p" style="top:257.0px"><span class="k">公称压力:</span><span class="v" style="letter-spacing:-1.05px">1.6MPa</span></div>
<div class="p" style="top:279.8px"><span class="k">公称通径:</span><span class="v" style="letter-spacing:-0.25px">15～600mm</span></div>
<div class="p" style="top:302.6px"><span class="k">适用介质:</span><span class="v" style="letter-spacing:1.35px">水、油等非腐蚀性液体</span></div>
<div class="p" style="top:325.4px"><span class="k">适用温度:</span><span class="v" style="letter-spacing:-0.1px">0～100℃</span></div>
<div class="p" style="top:348.2px"><span class="k">法兰标准:</span><span class="v" style="letter-spacing:-0.36px">GB/T17241.6&nbsp; GB/T9113</span></div>
<div class="p" style="top:371.0px"><span class="k">试验标准:</span><span class="v" style="letter-spacing:-0.15px">GB/T13927&nbsp; API598</span></div>
<div class="t1">
<div class="a" style="left:2.6px;top:3.0px;width:27.6px;height:40.8px"><span>零件<br>名称</span></div>
<div class="a" style="left:31.6px;top:3.0px;width:70.9px;height:40.8px"><span>阀体、阀盖、<br>阀瓣、填料压盖</span></div>
<div class="a" style="left:103.9px;top:3.0px;width:41.3px;height:40.8px"><span>阀杆<br>密封圈</span></div>
<div class="a" style="left:146.6px;top:3.0px;width:42.8px;height:40.8px"><span>阀杆螺母</span></div>
<div class="a" style="left:190.8px;top:3.0px;width:52.7px;height:40.8px"><span>垫圈</span></div>
<div class="a" style="left:244.9px;top:3.0px;width:45.6px;height:40.8px"><span>填料</span></div>
<div class="b" style="left:2.6px;top:45.2px;width:27.6px;height:34.4px"><span>材料</span></div>
<div class="b" style="left:31.6px;top:45.2px;width:70.9px;height:34.4px"><span>灰铸铁、球铁</span></div>
<div class="b" style="left:103.9px;top:45.2px;width:41.3px;height:34.4px"><span>不锈钢</span></div>
<div class="b" style="left:146.6px;top:45.2px;width:42.8px;height:34.4px"><span>铸铜</span></div>
<div class="b" style="left:190.8px;top:45.2px;width:52.7px;height:34.4px"><span>橡胶石棉板</span></div>
<div class="b" style="left:244.9px;top:45.2px;width:45.6px;height:34.4px"><span>膨胀石墨</span></div>
</div>
<div class="unit">单位:&nbsp; mm</div>
<div class="t2">
<div class="a" style="left:2.6px;top:2.8px;width:32.2px;height:13.3px"><span>DN</span></div>
<div class="w" style="left:35.9px;top:2.8px;width:32.9px;height:13.3px"><span>15</span></div>
<div class="w" style="left:70.6px;top:2.8px;width:32.5px;height:13.3px"><span>20</span></div>
<div class="w" style="left:104.9px;top:2.8px;width:32.5px;height:13.3px"><span>25</span></div>
<div class="w" style="left:139.2px;top:2.8px;width:32.5px;height:13.3px"><span>32</span></div>
<div class="w" style="left:173.6px;top:2.8px;width:32.5px;height:13.3px"><span>40</span></div>
<div class="w" style="left:207.9px;top:2.8px;width:32.5px;height:13.3px"><span>50</span></div>
<div class="w" style="left:242.2px;top:2.8px;width:32.5px;height:13.3px"><span>65</span></div>
<div class="w" style="left:276.6px;top:2.8px;width:32.5px;height:13.3px"><span>80</span></div>
<div class="w" style="left:310.9px;top:2.8px;width:32.5px;height:13.3px"><span>100</span></div>
<div class="w" style="left:345.2px;top:2.8px;width:32.5px;height:13.3px"><span>125</span></div>
<div class="w" style="left:379.5px;top:2.8px;width:32.5px;height:13.3px"><span>150</span></div>
<div class="w" style="left:413.9px;top:2.8px;width:32.5px;height:13.3px"><span>200</span></div>
<div class="w" style="left:448.2px;top:2.8px;width:32.5px;height:13.3px"><span>250</span></div>
<div class="w" style="left:482.5px;top:2.8px;width:32.5px;height:13.3px"><span>300</span></div>
<div class="w" style="left:516.9px;top:2.8px;width:32.5px;height:13.3px"><span>350</span></div>
<div class="w" style="left:551.2px;top:2.8px;width:32.5px;height:13.3px"><span>400</span></div>
<div class="w" style="left:585.5px;top:2.8px;width:32.5px;height:13.3px"><span>500</span></div>
<div class="w" style="left:619.9px;top:2.8px;width:32.2px;height:13.3px"><span>600</span></div>
<div class="a" style="left:2.6px;top:17.9px;width:32.2px;height:13.9px"><span>L</span></div>
<div class="b" style="left:35.9px;top:17.9px;width:32.9px;height:13.9px"><span>130</span></div>
<div class="b" style="left:70.6px;top:17.9px;width:32.5px;height:13.9px"><span>150</span></div>
<div class="b" style="left:104.9px;top:17.9px;width:32.5px;height:13.9px"><span>160</span></div>
<div class="b" style="left:139.2px;top:17.9px;width:32.5px;height:13.9px"><span>180</span></div>
<div class="b" style="left:173.6px;top:17.9px;width:32.5px;height:13.9px"><span>200</span></div>
<div class="b" style="left:207.9px;top:17.9px;width:32.5px;height:13.9px"><span>230</span></div>
<div class="b" style="left:242.2px;top:17.9px;width:32.5px;height:13.9px"><span>290</span></div>
<div class="b" style="left:276.6px;top:17.9px;width:32.5px;height:13.9px"><span>310</span></div>
<div class="b" style="left:310.9px;top:17.9px;width:32.5px;height:13.9px"><span>350</span></div>
<div class="b" style="left:345.2px;top:17.9px;width:32.5px;height:13.9px"><span>400</span></div>
<div class="b" style="left:379.5px;top:17.9px;width:32.5px;height:13.9px"><span>480</span></div>
<div class="b" style="left:413.9px;top:17.9px;width:32.5px;height:13.9px"><span>495</span></div>
<div class="b" style="left:448.2px;top:17.9px;width:32.5px;height:13.9px"><span>622</span></div>
<div class="b" style="left:482.5px;top:17.9px;width:32.5px;height:13.9px"><span>698</span></div>
<div class="b" style="left:516.9px;top:17.9px;width:32.5px;height:13.9px"><span>787</span></div>
<div class="b" style="left:551.2px;top:17.9px;width:32.5px;height:13.9px"><span>914</span></div>
<div class="b" style="left:585.5px;top:17.9px;width:32.5px;height:13.9px"><span>978</span></div>
<div class="b" style="left:619.9px;top:17.9px;width:32.2px;height:13.9px"><span>1295</span></div>
<div class="a" style="left:2.6px;top:33.9px;width:32.2px;height:14.0px"><span>H</span></div>
<div class="w" style="left:35.9px;top:33.9px;width:32.9px;height:14.0px"><span>150</span></div>
<div class="w" style="left:70.6px;top:33.9px;width:32.5px;height:14.0px"><span>160</span></div>
<div class="w" style="left:104.9px;top:33.9px;width:32.5px;height:14.0px"><span>182</span></div>
<div class="w" style="left:139.2px;top:33.9px;width:32.5px;height:14.0px"><span>192</span></div>
<div class="w" style="left:173.6px;top:33.9px;width:32.5px;height:14.0px"><span>250</span></div>
<div class="w" style="left:207.9px;top:33.9px;width:32.5px;height:14.0px"><span>264</span></div>
<div class="w" style="left:242.2px;top:33.9px;width:32.5px;height:14.0px"><span>380</span></div>
<div class="w" style="left:276.6px;top:33.9px;width:32.5px;height:14.0px"><span>413</span></div>
<div class="w" style="left:310.9px;top:33.9px;width:32.5px;height:14.0px"><span>446</span></div>
<div class="w" style="left:345.2px;top:33.9px;width:32.5px;height:14.0px"><span>540</span></div>
<div class="w" style="left:379.5px;top:33.9px;width:32.5px;height:14.0px"><span>623</span></div>
<div class="w" style="left:413.9px;top:33.9px;width:32.5px;height:14.0px"><span>687</span></div>
<div class="w" style="left:448.2px;top:33.9px;width:32.5px;height:14.0px"><span>782</span></div>
<div class="w" style="left:482.5px;top:33.9px;width:32.5px;height:14.0px"><span>914</span></div>
<div class="w" style="left:516.9px;top:33.9px;width:32.5px;height:14.0px"><span>968</span></div>
<div class="w" style="left:551.2px;top:33.9px;width:32.5px;height:14.0px"><span>1037</span></div>
<div class="w" style="left:585.5px;top:33.9px;width:32.5px;height:14.0px"><span>1440</span></div>
<div class="w" style="left:619.9px;top:33.9px;width:32.2px;height:14.0px"><span>1790</span></div>
<div class="a" style="left:2.6px;top:49.9px;width:32.2px;height:13.9px"><span>H<small>1</small></span></div>
<div class="b" style="left:35.9px;top:49.9px;width:32.9px;height:13.9px"><span>160</span></div>
<div class="b" style="left:70.6px;top:49.9px;width:32.5px;height:13.9px"><span>170</span></div>
<div class="b" style="left:104.9px;top:49.9px;width:32.5px;height:13.9px"><span>197</span></div>
<div class="b" style="left:139.2px;top:49.9px;width:32.5px;height:13.9px"><span>207</span></div>
<div class="b" style="left:173.6px;top:49.9px;width:32.5px;height:13.9px"><span>270</span></div>
<div class="b" style="left:207.9px;top:49.9px;width:32.5px;height:13.9px"><span>284</span></div>
<div class="b" style="left:242.2px;top:49.9px;width:32.5px;height:13.9px"><span>410</span></div>
<div class="b" style="left:276.6px;top:49.9px;width:32.5px;height:13.9px"><span>448</span></div>
<div class="b" style="left:310.9px;top:49.9px;width:32.5px;height:13.9px"><span>506</span></div>
<div class="b" style="left:345.2px;top:49.9px;width:32.5px;height:13.9px"><span>595</span></div>
<div class="b" style="left:379.5px;top:49.9px;width:32.5px;height:13.9px"><span>688</span></div>
<div class="b" style="left:413.9px;top:49.9px;width:32.5px;height:13.9px"><span>762</span></div>
<div class="b" style="left:448.2px;top:49.9px;width:32.5px;height:13.9px"><span>867</span></div>
<div class="b" style="left:482.5px;top:49.9px;width:32.5px;height:13.9px"><span>1009</span></div>
<div class="b" style="left:516.9px;top:49.9px;width:32.5px;height:13.9px"><span>1073</span></div>
<div class="b" style="left:551.2px;top:49.9px;width:32.5px;height:13.9px"><span>1152</span></div>
<div class="b" style="left:585.5px;top:49.9px;width:32.5px;height:13.9px"><span>1440</span></div>
<div class="b" style="left:619.9px;top:49.9px;width:32.2px;height:13.9px"><span>1790</span></div>
<div class="a" style="left:2.6px;top:65.8px;width:32.2px;height:14.3px"><span>D<small>0</small></span></div>
<div class="w" style="left:35.9px;top:65.8px;width:32.9px;height:14.3px"><span>80</span></div>
<div class="w" style="left:70.6px;top:65.8px;width:32.5px;height:14.3px"><span>180</span></div>
<div class="w" style="left:104.9px;top:65.8px;width:32.5px;height:14.3px"><span>80</span></div>
<div class="w" style="left:139.2px;top:65.8px;width:32.5px;height:14.3px"><span>90</span></div>
<div class="w" style="left:173.6px;top:65.8px;width:32.5px;height:14.3px"><span>100</span></div>
<div class="w" style="left:207.9px;top:65.8px;width:32.5px;height:14.3px"><span>120</span></div>
<div class="w" style="left:242.2px;top:65.8px;width:32.5px;height:14.3px"><span>200</span></div>
<div class="w" style="left:276.6px;top:65.8px;width:32.5px;height:14.3px"><span>200</span></div>
<div class="w" style="left:310.9px;top:65.8px;width:32.5px;height:14.3px"><span>240</span></div>
<div class="w" style="left:345.2px;top:65.8px;width:32.5px;height:14.3px"><span>240</span></div>
<div class="w" style="left:379.5px;top:65.8px;width:32.5px;height:14.3px"><span>360</span></div>
<div class="w" style="left:413.9px;top:65.8px;width:32.5px;height:14.3px"><span>400</span></div>
<div class="w" style="left:448.2px;top:65.8px;width:32.5px;height:14.3px"><span>500</span></div>
<div class="w" style="left:482.5px;top:65.8px;width:32.5px;height:14.3px"><span>500</span></div>
<div class="w" style="left:516.9px;top:65.8px;width:32.5px;height:14.3px"><span>680</span></div>
<div class="w" style="left:551.2px;top:65.8px;width:32.5px;height:14.3px"><span>680</span></div>
<div class="w" style="left:585.5px;top:65.8px;width:32.5px;height:14.3px"><span></span></div>
<div class="w" style="left:619.9px;top:65.8px;width:32.2px;height:14.3px"><span></span></div>
</div>
</body></html>
